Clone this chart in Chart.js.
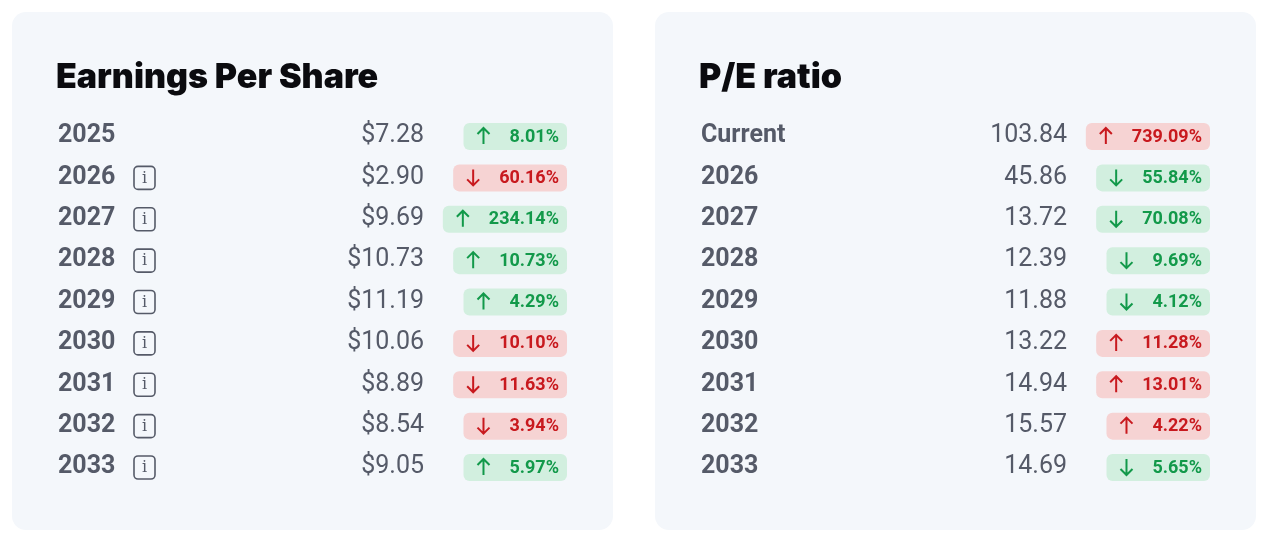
<!DOCTYPE html>
<html><head><meta charset="utf-8">
<script src="https://cdn.jsdelivr.net/npm/chart.js@4/dist/chart.umd.min.js"></script>
<style>
body{margin:0;background:#fff;width:1270px;height:534px;overflow:hidden}
.card{position:absolute;top:12px;width:601px;height:518px;background:#f4f7fb;border-radius:14px}
.card canvas{position:absolute;left:0;top:0}
</style></head><body>
<div class="card" style="left:12px"><canvas id="eps" width="601" height="518"></canvas></div>
<div class="card" style="left:655px"><canvas id="pe" width="601" height="518"></canvas></div>
<script>
// EPS table data
const epsYears = ['2025','2026','2027','2028','2029','2030','2031','2032','2033'];
const epsValues = [7.28, 2.90, 9.69, 10.73, 11.19, 10.06, 8.89, 8.54, 9.05];
const epsChange = [8.01, -60.16, 234.14, 10.73, 4.29, -10.10, -11.63, -3.94, 5.97];
const epsInfo = [false, true, true, true, true, true, true, true, true];

// P/E table data
const peYears = ['Current','2026','2027','2028','2029','2030','2031','2032','2033'];
const peValues = [103.84, 45.86, 13.72, 12.39, 11.88, 13.22, 14.94, 15.57, 14.69];
const peChange = [739.09, -55.84, -70.08, -9.69, -4.12, 11.28, 13.01, 4.22, -5.65];

function rrect(ctx, x, y, w, h, r) {
    ctx.beginPath();
    ctx.moveTo(x + r, y);
    ctx.arcTo(x + w, y, x + w, y + h, r);
    ctx.arcTo(x + w, y + h, x, y + h, r);
    ctx.arcTo(x, y + h, x, y, r);
    ctx.arcTo(x, y, x + w, y, r);
    ctx.closePath();
}

function makeTable(id, title, labels, values, changes, info, fmt, valueRight, good) {
    const tablePlugin = {
        id: 'table',
        afterDraw(chart) {
            const ctx = chart.ctx;
            const y = chart.scales.y;
            ctx.save();
            ctx.fillStyle = '#0b0b0f';
            ctx.font = '900 34px Inter, Roboto, sans-serif';
            ctx.textBaseline = 'middle';
            ctx.fillText(title, 44, 66);
            labels.forEach((lab, i) => {
                const py = y.getPixelForValue(i);
                ctx.textBaseline = 'middle';
                ctx.textAlign = 'left';
                ctx.fillStyle = '#555a68';
                ctx.font = 'bold 25px Roboto, sans-serif';
                ctx.fillText(lab, 46, py);
                if (info && info[i]) {
                    // info icon
                    ctx.strokeStyle = '#555a68';
                    ctx.lineWidth = 1.6;
                    rrect(ctx, 122, py - 11, 21, 23, 4);
                    ctx.stroke();
                    ctx.fillStyle = '#555a68';
                    ctx.font = '16px "DejaVu Serif", serif';
                    ctx.textAlign = 'center';
                    ctx.fillText('i', 132.5, py + 1);
                }
                ctx.textAlign = 'right';
                ctx.font = '25px Roboto, sans-serif';
                ctx.fillStyle = '#555a68';
                ctx.fillText(fmt(values[i]), valueRight, py);
                // badge
                const ch = changes[i];
                const up = ch >= 0;
                const positive = good(up);
                const txt = Math.abs(ch).toFixed(2) + '%';
                ctx.font = 'bold 18px Roboto, sans-serif';
                const tw = ctx.measureText(txt).width;
                const right = valueRight + 143;
                const w = tw + 54;
                const left = right - w;
                ctx.fillStyle = positive ? '#d2efdf' : '#f6d3d3';
                rrect(ctx, left, py - 13, w, 27, 6);
                ctx.fill();
                const col = positive ? '#12994a' : '#c8191e';
                ctx.fillStyle = col;
                ctx.fillText(txt, right - 8, py + 1);
                // arrow
                const ax = left + 20;
                ctx.strokeStyle = col;
                ctx.lineWidth = 2;
                ctx.beginPath();
                if (up) {
                    ctx.moveTo(ax, py + 8); ctx.lineTo(ax, py - 8);
                    ctx.moveTo(ax - 6, py - 2); ctx.lineTo(ax, py - 8); ctx.lineTo(ax + 6, py - 2);
                } else {
                    ctx.moveTo(ax, py - 8); ctx.lineTo(ax, py + 8);
                    ctx.moveTo(ax - 6, py + 2); ctx.lineTo(ax, py + 8); ctx.lineTo(ax + 6, py + 2);
                }
                ctx.stroke();
            });
            ctx.restore();
        }
    };
    new Chart(document.getElementById(id), {
        type: 'bar',
        data: { labels: labels, datasets: [{ data: values, backgroundColor: 'rgba(0,0,0,0)' }] },
        options: {
            indexAxis: 'y',
            responsive: false,
            animation: false,
            events: [],
            layout: { padding: { top: 124, bottom: 63, left: 0, right: 0 } },
            plugins: { legend: { display: false }, tooltip: { enabled: false } },
            scales: {
                y: { type: 'category', offset: false, display: false },
                x: { display: false }
            }
        },
        plugins: [tablePlugin]
    });
}

makeTable('eps', 'Earnings Per Share', epsYears, epsValues, epsChange, epsInfo,
    v => '$' + v.toFixed(2), 412, up => up);
makeTable('pe', 'P/E ratio', peYears, peValues, peChange, null,
    v => v.toFixed(2), 412, up => !up);
</script>
</body></html>
